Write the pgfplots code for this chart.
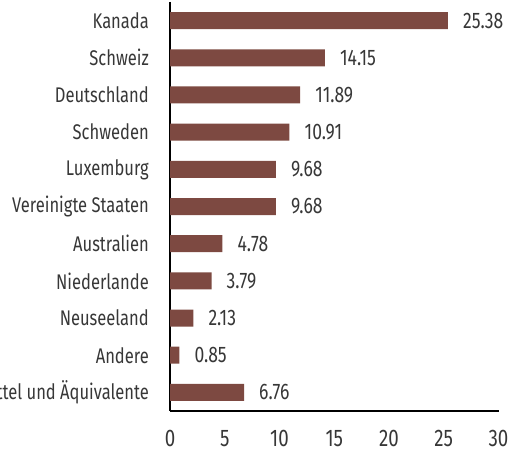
\documentclass[border=0pt]{standalone}
\usepackage{pgfplots}
\pgfplotsset{compat=1.18}
\usepackage{fontspec}
\setmainfont[FakeStretch=0.78]{Fira Sans}
\definecolor{barc}{RGB}{125,73,65}
\definecolor{txt}{RGB}{55,55,55}
\begin{document}
\begin{tikzpicture}
\begin{axis}[
  at={(170pt,41pt)}, anchor=south west,
  scale only axis, width=328.5pt, height=409pt,
  xbar, bar width=17pt,
  xmin=0, xmax=30, ymin=-0.5, ymax=10.5, y dir=reverse,
  axis x line*=bottom, axis y line*=left,
  axis line style={black, line width=1.2pt},
  xtick={0,5,...,30}, ytick={0,...,10},
  yticklabels={Kanada, Schweiz, Deutschland, Schweden, Luxemburg, Vereinigte Staaten, Australien, Niederlande, Neuseeland, Andere, Zahlungsmittel und Äquivalente},
  major tick length=0pt,
  /pgf/number format/assume math mode=true,
  yticklabel style={anchor=east, inner sep=0pt, xshift=-21pt, font=\fontsize{21.2}{23}\selectfont, text=txt},
  xticklabel style={anchor=north, inner sep=0pt, yshift=-19pt, font=\fontsize{24}{26}\selectfont, text=txt},
  nodes near coords={\pgfmathprintnumber[fixed,fixed zerofill,precision=2,assume math mode=true]{\pgfplotspointmeta}},
  point meta=x,
  every node near coord/.append style={anchor=west, inner sep=0pt, xshift=15pt, font=\fontsize{22.5}{24}\selectfont, text=txt},
  clip=false,
]
\addplot[fill=barc, draw=none] coordinates {
  (25.38,0) (14.15,1) (11.89,2) (10.91,3) (9.68,4) (9.68,5)
  (4.78,6) (3.79,7) (2.13,8) (0.85,9) (6.76,10)
};
\end{axis}
\pgfresetboundingbox
\useasboundingbox (0,0) rectangle (510pt,452pt);
\end{tikzpicture}
\end{document}
